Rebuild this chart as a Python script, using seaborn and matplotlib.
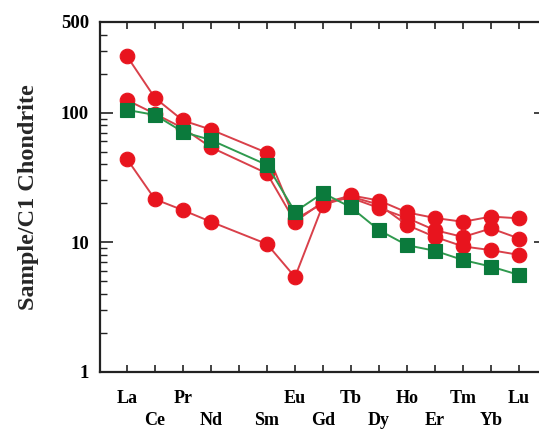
import numpy as np
import pandas as pd
import matplotlib
matplotlib.use("Agg")
import matplotlib.pyplot as plt
import seaborn as sns

# REE order (Pm has no analysis)
elements = ["La", "Ce", "Pr", "Nd", "Pm", "Sm", "Eu", "Gd", "Tb", "Dy",
            "Ho", "Er", "Tm", "Yb", "Lu"]
# labels sitting on the lower row
lower_row = ["Ce", "Nd", "Sm", "Gd", "Dy", "Er", "Yb"]

# chondrite-normalised values
sample_a = [273, 130, 87, 74, np.nan, 49, 15.0, 20.0, 23.0, 21.0, 17.0, 15.4, 14.4, 15.8, 15.3]
sample_b = [125, 98, 76, 54, np.nan, 34, 14.4, 20.5, 22.0, 18.4, 15.4, 12.4, 11.0, 12.8, 10.7]
sample_c = [44, 21.5, 17.7, 14.4, np.nan, 9.7, 5.4, 19.5, 22.5, 19.5, 13.6, 11.0, 9.3, 8.7, 8.0]
sample_d = [105, 96, 71, 61.5, np.nan, 39.5, 17.2, 24.0, 18.6, 12.4, 9.5, 8.6, 7.3, 6.5, 5.6]

sns.set_style("ticks")
plt.rcParams["font.family"] = ["Liberation Serif", "DejaVu Serif"]
plt.rcParams["font.weight"] = "bold"

fig = plt.figure(figsize=(5.39, 4.32), dpi=100)
ax = fig.add_axes([100 / 539, 60 / 432, 446 / 539, 350 / 432])

pos = np.arange(len(elements))
red = "#e8141e"
red_line = "#d9404a"
green = "#0b7a3c"
green_line = "#2f9a4e"

for vals in (sample_a, sample_b, sample_c):
    df = pd.DataFrame({"x": pos, "y": vals}).dropna()
    sns.lineplot(data=df, x="x", y="y", ax=ax, color=red_line, linewidth=1.4,
                 marker="o", markersize=10.5, markerfacecolor=red,
                 markeredgecolor=red, markeredgewidth=0.8, sort=False,
                 estimator=None, zorder=3)

df = pd.DataFrame({"x": pos, "y": sample_d}).dropna()
sns.lineplot(data=df, x="x", y="y", ax=ax, color=green_line, linewidth=1.4,
             marker="s", markersize=9.5, markerfacecolor=green,
             markeredgecolor=green, markeredgewidth=0.8, sort=False,
             estimator=None, zorder=4)

ax.set_yscale("log")
ax.set_ylim(1, 500)
ax.set_xlim(-0.96, 14.96)

ax.set_yticks([1, 10, 100, 500])
ax.set_yticklabels(["1", "10", "100", "500"], fontsize=13.5, fontweight="bold")
ax.yaxis.set_minor_locator(matplotlib.ticker.LogLocator(base=10, subs=np.arange(2, 10)))
ax.yaxis.set_minor_formatter(matplotlib.ticker.NullFormatter())

labels = []
for e in elements:
    if e == "Pm":
        labels.append("")
    elif e in lower_row:
        labels.append("\n" + e)
    else:
        labels.append(e)
ax.set_xticks(pos)
ax.set_xticklabels(labels, fontsize=13, fontweight="bold", linespacing=1.4)

ax.tick_params(axis="x", which="both", direction="in", top=True, bottom=True,
               length=5, width=1.2, pad=13, colors="#222222", labelcolor="black")
ax.tick_params(axis="y", which="major", direction="in", left=True, right=True,
               length=9, width=1.2, pad=8, labelcolor="black", colors="#222222")
ax.tick_params(axis="y", which="minor", direction="in", left=True, right=True,
               length=5, width=1.0, colors="#222222")

for s in ax.spines.values():
    s.set_linewidth(1.6)
    s.set_color("#222222")

ax.set_xlabel("")
ax.set_ylabel("Sample/C1 Chondrite", fontsize=17.5, fontweight="bold", labelpad=16)

fig.savefig("out.png", dpi=100)
